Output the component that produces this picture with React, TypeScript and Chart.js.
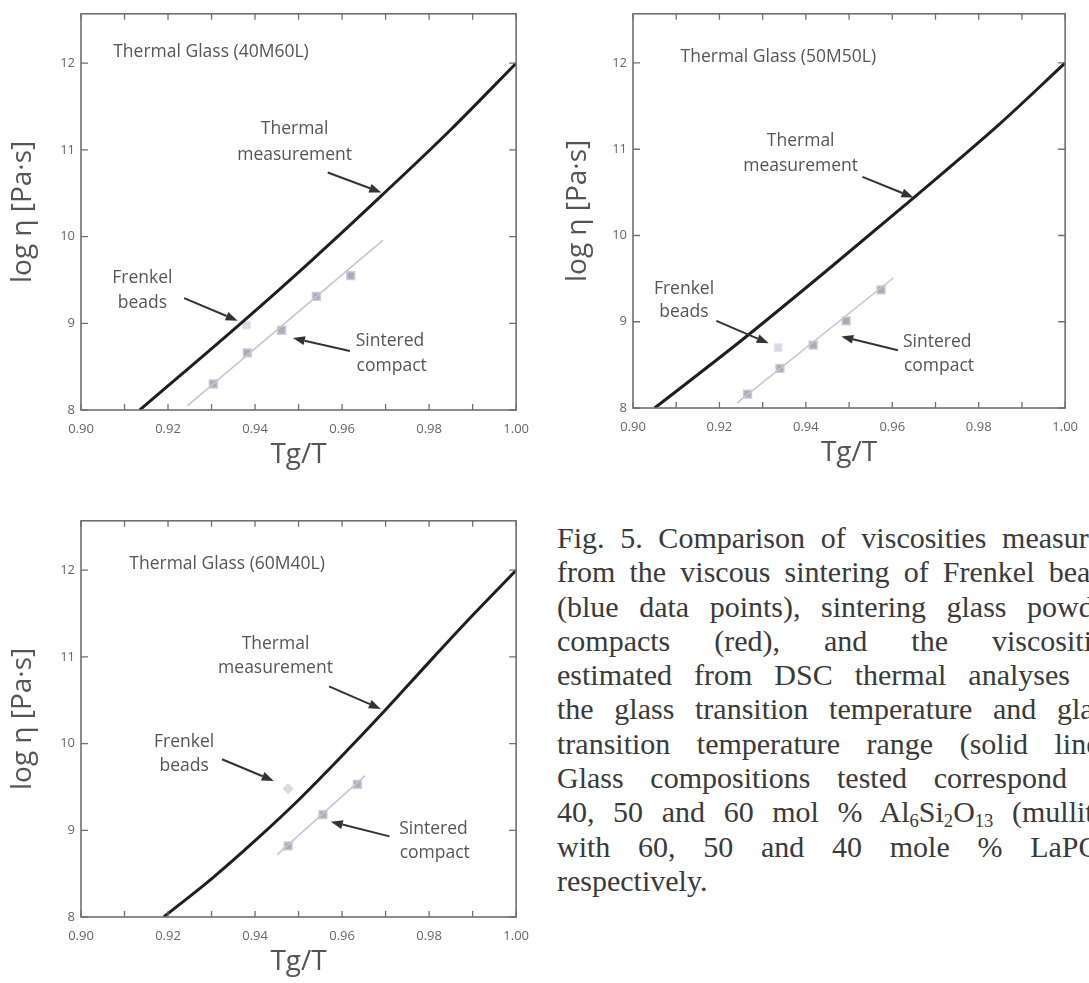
import React, { useEffect, useRef } from "react";
import { Chart, registerables } from "chart.js";
Chart.register(...registerables);

// ---------- shared axes ----------
const xTicks = [0.9, 0.91, 0.92, 0.93, 0.94, 0.95, 0.96, 0.97, 0.98, 0.99, 1.0];
const xLabelTicks = [0.9, 0.92, 0.94, 0.96, 0.98, 1.0];
const yTicks = [8, 9, 10, 11, 12];
const X_MIN = 0.9;
const X_MAX = 1.0;
const Y_MIN = 8;
const Y_MAX = 12.57;

// ---------- panel 1 : 40M60L ----------
const p1ThermalX = [0.9135, 0.9372, 0.9531, 0.969, 0.9849, 1.0];
const p1ThermalY = [8.0, 9.02, 9.73, 10.47, 11.23, 12.0];
const p1FrenkelX = [0.938];
const p1FrenkelY = [8.98];
const p1SinteredX = [0.9304, 0.9382, 0.9461, 0.9541, 0.962];
const p1SinteredY = [8.3, 8.66, 8.92, 9.31, 9.55];
const p1FitX = [0.9245, 0.9694];
const p1FitY = [8.05, 9.96];

// ---------- panel 2 : 50M50L ----------
const p2ThermalX = [0.905, 0.925, 0.945, 0.965, 0.985, 1.0];
const p2ThermalY = [8.0, 8.78, 9.6, 10.44, 11.3, 12.0];
const p2FrenkelX = [0.9336];
const p2FrenkelY = [8.7];
const p2SinteredX = [0.9265, 0.934, 0.9417, 0.9493, 0.9574];
const p2SinteredY = [8.16, 8.46, 8.73, 9.01, 9.37];
const p2FitX = [0.9241, 0.9603];
const p2FitY = [8.06, 9.51];

// ---------- panel 3 : 60M40L ----------
const p3ThermalX = [0.919, 0.93, 0.94, 0.95, 0.96, 0.97, 0.98, 0.99, 1.0];
const p3ThermalY = [8.0, 8.44, 8.88, 9.35, 9.86, 10.39, 10.94, 11.48, 12.0];
const p3FrenkelX = [0.9476];
const p3FrenkelY = [9.48];
const p3SinteredX = [0.9476, 0.9556, 0.9635];
const p3SinteredY = [8.82, 9.18, 9.53];
const p3FitX = [0.9451, 0.9653];
const p3FitY = [8.72, 9.63];

// ---------- annotation anchors (data coordinates) ----------
const p1Labels = [
  { text: "Thermal Glass (40M60L)", x: 0.9074, y: 12.13, align: "left" },
  { text: "Thermal", x: 0.9491, y: 11.24, align: "center" },
  { text: "measurement", x: 0.9491, y: 10.94, align: "center" },
  { text: "Frenkel", x: 0.9141, y: 9.52, align: "center" },
  { text: "beads", x: 0.9141, y: 9.23, align: "center" },
  { text: "Sintered", x: 0.971, y: 8.79, align: "center" },
  { text: "compact", x: 0.9714, y: 8.51, align: "center" },
];
const p1Arrows = [
  [0.9567, 10.74, 0.969, 10.51],
  [0.9237, 9.29, 0.936, 9.03],
  [0.9618, 8.68, 0.9487, 8.83],
];
const p2Labels = [
  { text: "Thermal Glass (50M50L)", x: 0.911, y: 12.07, align: "left" },
  { text: "Thermal", x: 0.9388, y: 11.1, align: "center" },
  { text: "measurement", x: 0.9388, y: 10.81, align: "center" },
  { text: "Frenkel", x: 0.9118, y: 9.38, align: "center" },
  { text: "beads", x: 0.9118, y: 9.11, align: "center" },
  { text: "Sintered", x: 0.9704, y: 8.77, align: "center" },
  { text: "compact", x: 0.9708, y: 8.49, align: "center" },
];
const p2Arrows = [
  [0.9531, 10.68, 0.9649, 10.44],
  [0.9193, 9.01, 0.9314, 8.75],
  [0.9613, 8.67, 0.9482, 8.83],
];
const p3Labels = [
  { text: "Thermal Glass (60M40L)", x: 0.9111, y: 12.07, align: "left" },
  { text: "Thermal", x: 0.9447, y: 11.15, align: "center" },
  { text: "measurement", x: 0.9447, y: 10.87, align: "center" },
  { text: "Frenkel", x: 0.9237, y: 10.02, align: "center" },
  { text: "beads", x: 0.9237, y: 9.74, align: "center" },
  { text: "Sintered", x: 0.981, y: 9.02, align: "center" },
  { text: "compact", x: 0.9813, y: 8.74, align: "center" },
];
const p3Arrows = [
  [0.957, 10.66, 0.9689, 10.4],
  [0.9324, 9.82, 0.9443, 9.57],
  [0.9709, 8.93, 0.9574, 9.1],
];

const FONT = "'Open Sans', 'Noto Sans', sans-serif";

function zip(xs: number[], ys: number[]) {
  return xs.map((x, i) => ({ x, y: ys[i] }));
}

type PanelProps = {
  thermal: { x: number[]; y: number[] };
  frenkel: { x: number[]; y: number[] };
  sintered: { x: number[]; y: number[] };
  fit: { x: number[]; y: number[] };
  labels: { text: string; x: number; y: number; align: string }[];
  arrows: number[][];
  frenkelStyle: string;
  left: number;
  top: number;
  width: number;
  height: number;
  padTop: number;
  padRight: number;
  yTitlePad: number;
};

function Panel(props: PanelProps) {
  const ref = useRef<HTMLCanvasElement | null>(null);
  useEffect(() => {
    if (!ref.current) return;
    const frame = {
      id: "frame",
      afterDatasetsDraw(chart: any) {
        const { ctx, chartArea: a, scales } = chart;
        const sx = scales.x;
        const sy = scales.y;
        ctx.save();
        ctx.strokeStyle = "#707070";
        ctx.lineWidth = 1.6;
        ctx.strokeRect(a.left, a.top, a.right - a.left, a.bottom - a.top);
        ctx.lineWidth = 1.3;
        ctx.beginPath();
        xTicks.forEach((v) => {
          const px = sx.getPixelForValue(v);
          ctx.moveTo(px, a.bottom);
          ctx.lineTo(px, a.bottom - 6);
          ctx.moveTo(px, a.top);
          ctx.lineTo(px, a.top + 6);
        });
        yTicks.forEach((v) => {
          const py = sy.getPixelForValue(v);
          ctx.moveTo(a.left, py);
          ctx.lineTo(a.left + 7, py);
          ctx.moveTo(a.right, py);
          ctx.lineTo(a.right - 7, py);
        });
        ctx.stroke();

        ctx.fillStyle = "#555";
        ctx.font = `17.5px ${FONT}`;
        ctx.textBaseline = "middle";
        props.labels.forEach((l) => {
          ctx.textAlign = l.align as CanvasTextAlign;
          ctx.fillText(l.text, sx.getPixelForValue(l.x), sy.getPixelForValue(l.y));
        });

        ctx.strokeStyle = "#333";
        ctx.fillStyle = "#333";
        ctx.lineWidth = 2;
        props.arrows.forEach((ar) => {
          const x1 = sx.getPixelForValue(ar[0]);
          const y1 = sy.getPixelForValue(ar[1]);
          const x2 = sx.getPixelForValue(ar[2]);
          const y2 = sy.getPixelForValue(ar[3]);
          const ang = Math.atan2(y2 - y1, x2 - x1);
          const hl = 12;
          const hw = 4.5;
          const bx = x2 - hl * Math.cos(ang);
          const by = y2 - hl * Math.sin(ang);
          ctx.beginPath();
          ctx.moveTo(x1, y1);
          ctx.lineTo(bx, by);
          ctx.stroke();
          ctx.beginPath();
          ctx.moveTo(x2, y2);
          ctx.lineTo(bx + hw * Math.sin(ang), by - hw * Math.cos(ang));
          ctx.lineTo(bx - hw * Math.sin(ang), by + hw * Math.cos(ang));
          ctx.closePath();
          ctx.fill();
        });
        ctx.restore();
      },
    };

    const chart = new Chart(ref.current, {
      type: "scatter",
      data: {
        datasets: [
          {
            type: "line",
            data: zip(props.fit.x, props.fit.y),
            borderColor: "#c6c6ce",
            borderWidth: 1.6,
            pointRadius: 0,
            fill: false,
          },
          {
            type: "line",
            data: zip(props.thermal.x, props.thermal.y),
            borderColor: "#1f1f1f",
            borderWidth: 3,
            pointRadius: 0,
            cubicInterpolationMode: "monotone",
            fill: false,
          },
          {
            data: zip(props.sintered.x, props.sintered.y),
            pointStyle: "rect",
            pointRadius: 5.5,
            backgroundColor: "#abaab9",
            borderColor: "#cbcbd6",
            borderWidth: 1.5,
          },
          {
            data: zip(props.frenkel.x, props.frenkel.y),
            pointStyle: props.frenkelStyle,
            pointRadius: 5.5,
            backgroundColor: "#d9d9e5",
            borderColor: "#e6e6ee",
            borderWidth: 1,
          },
        ],
      },
      options: {
        animation: false,
        responsive: false,
        events: [],
        layout: { padding: { left: 0, top: props.padTop, right: props.padRight, bottom: 0 } },
        plugins: { legend: { display: false }, tooltip: { enabled: false } },
        scales: {
          x: {
            type: "linear",
            min: X_MIN,
            max: X_MAX,
            grid: { display: false, drawTicks: false },
            border: { display: false },
            afterBuildTicks: (s: any) => {
              s.ticks = xTicks.map((v) => ({ value: v }));
            },
            afterFit: (s: any) => {
              s.height = 70;
            },
            ticks: {
              autoSkip: false,
              maxRotation: 0,
              padding: 11,
              color: "#666",
              font: { family: FONT, size: 13 },
              callback: (v: any) =>
                xLabelTicks.some((t) => Math.abs(t - v) < 1e-6) ? Number(v).toFixed(2) : "",
            },
            title: {
              display: true,
              text: "Tg/T",
              color: "#555",
              font: { family: FONT, size: 28 },
              padding: { top: 0, bottom: 8 },
            },
          },
          y: {
            type: "linear",
            min: Y_MIN,
            max: Y_MAX,
            grid: { display: false, drawTicks: false },
            border: { display: false },
            afterBuildTicks: (s: any) => {
              s.ticks = yTicks.map((v) => ({ value: v }));
            },
            afterFit: (s: any) => {
              s.width = 81;
            },
            ticks: {
              padding: 6,
              color: "#666",
              font: { family: FONT, size: 13 },
              callback: (v: any) => String(v),
            },
            title: {
              display: true,
              text: "log η [Pa·s]",
              color: "#555",
              font: { family: FONT, size: 28 },
              padding: { top: props.yTitlePad, bottom: 0 },
            },
          },
        },
      },
      plugins: [frame],
    } as any);
    return () => chart.destroy();
  }, []);
  return (
    <canvas
      ref={ref}
      width={props.width}
      height={props.height}
      style={{ position: "absolute", left: props.left, top: props.top, width: props.width, height: props.height }}
    />
  );
}

const lineStyle: React.CSSProperties = {
  width: 560,
  height: 34.3,
  lineHeight: "34.3px",
  textAlign: "justify",
  textAlignLast: "justify",
  whiteSpace: "normal",
};
const subStyle: React.CSSProperties = { fontSize: "0.62em", verticalAlign: "-0.25em", lineHeight: 0 };

function Caption() {
  return (
    <div
      style={{
        position: "absolute",
        left: 557,
        top: 521,
        width: 1089 - 557,
        height: 400,
        overflow: "hidden",
        fontFamily: "'Liberation Serif', 'DejaVu Serif', serif",
        fontSize: 30,
        color: "#3a3a3a",
      }}
    >
      <div style={lineStyle}>Fig. 5. Comparison of viscosities measured</div>
      <div style={lineStyle}>from the viscous sintering of Frenkel beads</div>
      <div style={lineStyle}>(blue data points), sintering glass powder</div>
      <div style={lineStyle}>compacts (red), and the viscosities</div>
      <div style={lineStyle}>estimated from DSC thermal analyses of</div>
      <div style={lineStyle}>the glass transition temperature and glass</div>
      <div style={lineStyle}>transition temperature range (solid line).</div>
      <div style={lineStyle}>Glass compositions tested correspond to</div>
      <div style={lineStyle}>
        40, 50 and 60 mol % Al<sub style={subStyle}>6</sub>Si<sub style={subStyle}>2</sub>O
        <sub style={subStyle}>13</sub> (mullite)
      </div>
      <div style={lineStyle}>
        with 60, 50 and 40 mole % LaPO<sub style={subStyle}>4</sub>,
      </div>
      <div style={{ ...lineStyle, textAlignLast: "left" }}>respectively.</div>
    </div>
  );
}

export default function App() {
  return (
    <div
      style={{
        position: "absolute",
        left: 0,
        top: 0,
        width: 1089,
        height: 983,
        overflow: "hidden",
        background: "#fff",
      }}
    >
      <Panel
        thermal={{ x: p1ThermalX, y: p1ThermalY }}
        frenkel={{ x: p1FrenkelX, y: p1FrenkelY }}
        sintered={{ x: p1SinteredX, y: p1SinteredY }}
        fit={{ x: p1FitX, y: p1FitY }}
        labels={p1Labels}
        arrows={p1Arrows}
        frenkelStyle="rect"
        left={0}
        top={0}
        width={540}
        height={480}
        padTop={10}
        padRight={23}
        yTitlePad={6}
      />
      <Panel
        thermal={{ x: p2ThermalX, y: p2ThermalY }}
        frenkel={{ x: p2FrenkelX, y: p2FrenkelY }}
        sintered={{ x: p2SinteredX, y: p2SinteredY }}
        fit={{ x: p2FitX, y: p2FitY }}
        labels={p2Labels}
        arrows={p2Arrows}
        frenkelStyle="rect"
        left={552}
        top={0}
        width={537}
        height={478}
        padTop={9}
        padRight={15}
        yTitlePad={9}
      />
      <Panel
        thermal={{ x: p3ThermalX, y: p3ThermalY }}
        frenkel={{ x: p3FrenkelX, y: p3FrenkelY }}
        sintered={{ x: p3SinteredX, y: p3SinteredY }}
        fit={{ x: p3FitX, y: p3FitY }}
        labels={p3Labels}
        arrows={p3Arrows}
        frenkelStyle="rectRot"
        left={0}
        top={507}
        width={540}
        height={480}
        padTop={10}
        padRight={23}
        yTitlePad={6}
      />
      <Caption />
    </div>
  );
}
